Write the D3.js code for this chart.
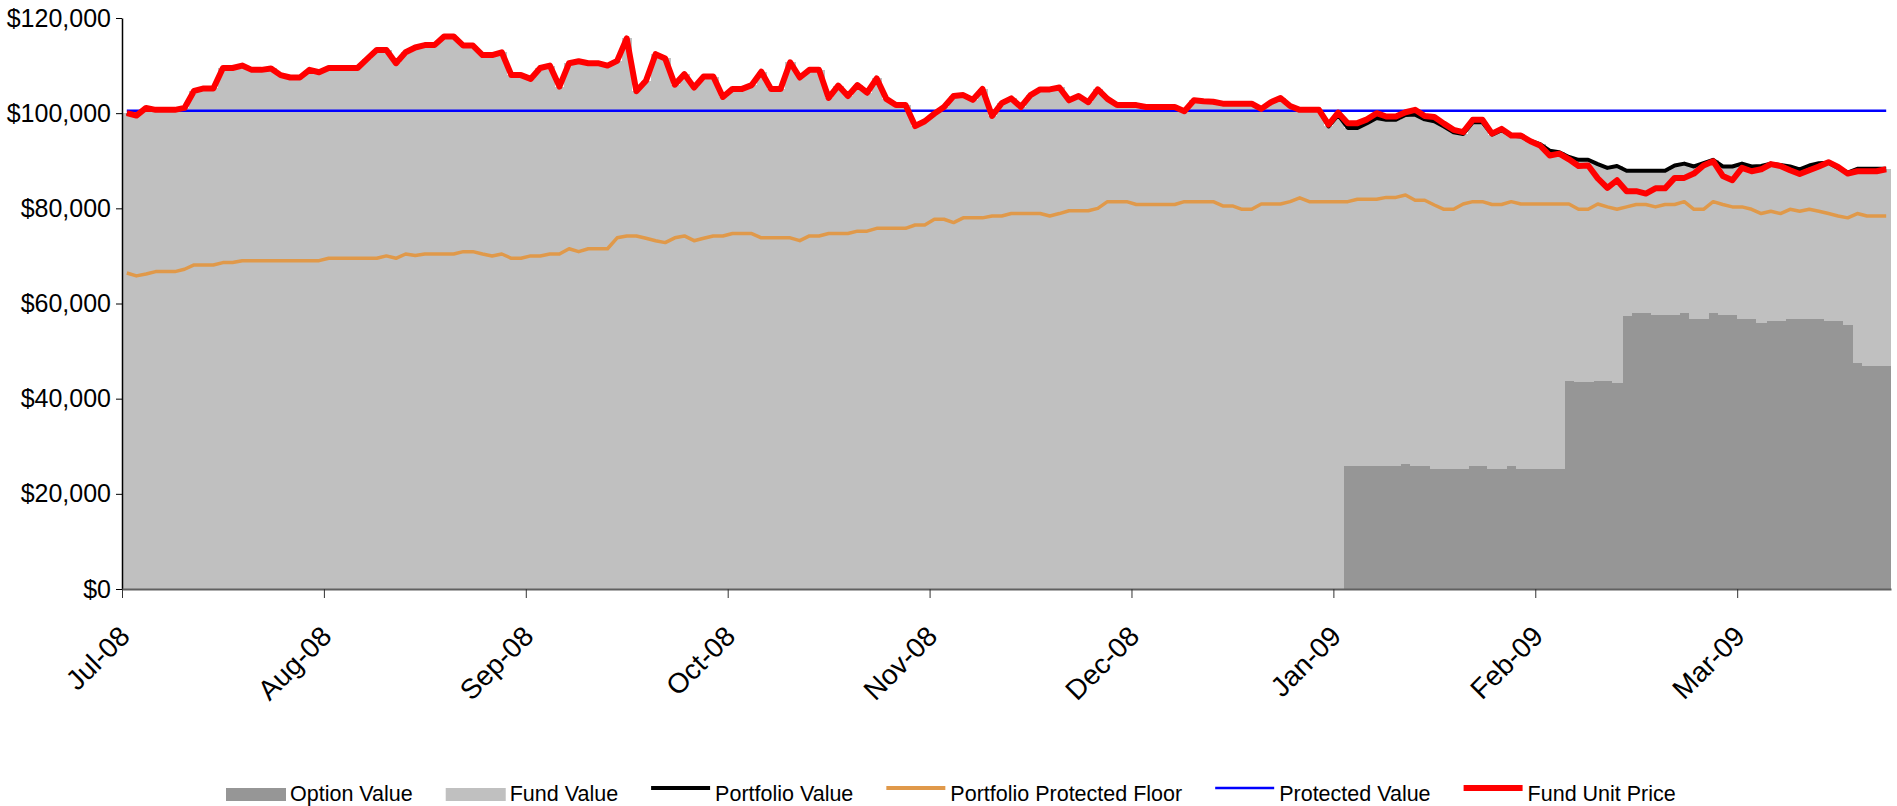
<!DOCTYPE html>
<html lang="en">
<head>
    <meta charset="UTF-8">
    <title>Fund Protection Chart</title>
    <script src="https://d3js.org/d3.v7.min.js"></script>
    <style>
        body {
            margin: 0;
            background: #ffffff;
            font-family: "Liberation Sans", Arial, sans-serif;
        }
        svg { display: block; }
        .axis text { font-family: "Liberation Sans", Arial, sans-serif; fill: #000; }
        .legend text { font-size: 21.5px; fill: #000; }
    </style>
</head>
<body>
    <div id="chart"></div>

    <script>
        // month tick labels and the trading-day index where each month starts
        const monthLabels = ["Jul-08", "Aug-08", "Sep-08", "Oct-08", "Nov-08", "Dec-08", "Jan-09", "Feb-09", "Mar-09"];
        const monthStartIndex = [0, 21, 42, 63, 84, 105, 126, 147, 168];
        const yTicks = [0, 20000, 40000, 60000, 80000, 100000, 120000];

        const protectedValue = 100500;

        // daily values, one row per month block
        const unitPrice = [
            100000, 99500, 101100, 100700, 100700, 100700, 101100, 104700, 105200, 105200, 109500, 109500, 110000, 109100, 109100, 109400, 108000, 107500, 107500, 109100, 108600,
            109500, 109500, 109500, 109500, 111400, 113300, 113300, 110500, 112800, 113800, 114300, 114300, 116100, 116100, 114200, 114200, 112200, 112200, 112800, 108000, 108000,
            107200, 109500, 110000, 105600, 110500, 110900, 110500, 110500, 110000, 111000, 115700, 104600, 106800, 112400, 111500, 106000, 108200, 105400, 107700, 107700, 103400,
            105100, 105100, 105900, 108700, 105100, 105100, 110700, 107500, 109100, 109100, 103200, 105800, 103600, 105900, 104300, 107300, 103000, 101700, 101700, 97300, 98300,
            99900, 101300, 103600, 103800, 102800, 105100, 99400, 102100, 103100, 101300, 103800, 105000, 105000, 105400, 102700, 103600, 102300, 105000, 103000, 101700, 101700,
            101700, 101300, 101300, 101300, 101300, 100400, 102700, 102500, 102400, 102000, 102000, 102000, 102000, 100900, 102300, 103200, 101500, 100700, 100700, 100700, 97600,
            100100, 97900, 97900, 98700, 100000, 99300, 99300, 100200, 100700, 99400, 99200, 97800, 96500, 96000, 98600, 98600, 95700, 96700, 95300, 95300, 94100,
            93200, 91100, 91500, 90300, 88900, 89000, 86300, 84300, 85900, 83600, 83600, 83100, 84200, 84200, 86400, 86400, 87300, 89000, 89900, 86800, 85900,
            88500, 87800, 88200, 89300, 88900, 88000, 87200, 88000, 88800, 89700, 88700, 87300, 87800, 87800, 87800, 88200
        ];

        const portfolioValue = [
            100000, 99500, 101100, 100700, 100700, 100700, 101100, 104700, 105200, 105200, 109500, 109500, 110000, 109100, 109100, 109400, 108000, 107500, 107500, 109100, 108600,
            109500, 109500, 109500, 109500, 111400, 113300, 113300, 110500, 112800, 113800, 114300, 114300, 116100, 116100, 114200, 114200, 112200, 112200, 112800, 108000, 108000,
            107200, 109500, 110000, 105600, 110500, 110900, 110500, 110500, 110000, 111000, 115700, 104600, 106800, 112400, 111500, 106000, 108200, 105400, 107700, 107700, 103400,
            105100, 105100, 105900, 108700, 105100, 105100, 110700, 107500, 109100, 109100, 103200, 105800, 103600, 105900, 104300, 107300, 103000, 101700, 101700, 97300, 98300,
            99900, 101300, 103600, 103800, 102800, 105100, 99400, 102100, 103100, 101300, 103800, 105000, 105000, 105400, 102700, 103600, 102300, 105000, 103000, 101700, 101700,
            101700, 101300, 101300, 101300, 101300, 100400, 102700, 102500, 102400, 102000, 102000, 102000, 102000, 100900, 102300, 103200, 101500, 100700, 100700, 100700, 97200,
            99600, 96900, 96900, 97900, 99000, 98600, 98600, 99600, 99700, 98700, 98300, 97200, 96000, 95600, 98100, 98100, 95500, 96400, 95300, 95100, 94200,
            93500, 92100, 91800, 90800, 90200, 90200, 89300, 88500, 88900, 87900, 87900, 87900, 87900, 87900, 89000, 89400, 88800, 89500, 90200, 88800, 88800,
            89400, 88800, 88900, 89400, 89100, 88800, 88200, 89000, 89500, 89600, 88500, 87500, 88300, 88300, 88300, 88300
        ];

        const optionValue = [
            0, 0, 0, 0, 0, 0, 0, 0, 0, 0, 0, 0, 0, 0, 0, 0, 0, 0, 0, 0, 0,
            0, 0, 0, 0, 0, 0, 0, 0, 0, 0, 0, 0, 0, 0, 0, 0, 0, 0, 0, 0, 0,
            0, 0, 0, 0, 0, 0, 0, 0, 0, 0, 0, 0, 0, 0, 0, 0, 0, 0, 0, 0, 0,
            0, 0, 0, 0, 0, 0, 0, 0, 0, 0, 0, 0, 0, 0, 0, 0, 0, 0, 0, 0, 0,
            0, 0, 0, 0, 0, 0, 0, 0, 0, 0, 0, 0, 0, 0, 0, 0, 0, 0, 0, 0, 0,
            0, 0, 0, 0, 0, 0, 0, 0, 0, 0, 0, 0, 0, 0, 0, 0, 0, 0, 0, 0, 0,
            0, 25800, 25800, 25800, 25800, 25800, 25800, 26300, 25800, 25800, 25300, 25300, 25300, 25300, 25800, 25800, 25300, 25300, 25800, 25300, 25300,
            25300, 25300, 25300, 43800, 43400, 43400, 43800, 43800, 43200, 57400, 57900, 57900, 57500, 57500, 57500, 57900, 56800, 56800, 57900, 57500, 57500,
            56800, 56800, 56000, 56400, 56400, 56800, 56800, 56800, 56800, 56400, 56400, 55500, 47400, 46900, 46900, 46900
        ];

        const fundValue = [
            100000, 99500, 101100, 100700, 100700, 100700, 101100, 104700, 105200, 105200, 109500, 109500, 110000, 109100, 109100, 109400, 108000, 107500, 107500, 109100, 108600,
            109500, 109500, 109500, 109500, 111400, 113300, 113300, 110500, 112800, 113800, 114300, 114300, 116100, 116100, 114200, 114200, 112200, 112200, 112800, 108000, 108000,
            107200, 109500, 110000, 105600, 110500, 110900, 110500, 110500, 110000, 111000, 115700, 104600, 106800, 112400, 111500, 106000, 108200, 105400, 107700, 107700, 103400,
            105100, 105100, 105900, 108700, 105100, 105100, 110700, 107500, 109100, 109100, 103200, 105800, 103600, 105900, 104300, 107300, 103000, 101700, 101700, 97300, 98300,
            99900, 101300, 103600, 103800, 102800, 105100, 99400, 102100, 103100, 101300, 103800, 105000, 105000, 105400, 102700, 103600, 102300, 105000, 103000, 101700, 101700,
            101700, 101300, 101300, 101300, 101300, 100400, 102700, 102500, 102400, 102000, 102000, 102000, 102000, 100900, 102300, 103200, 101500, 100700, 100700, 100700, 97200,
            99600, 71100, 71100, 72100, 73200, 72800, 72800, 73300, 73900, 72900, 73000, 71900, 70700, 70300, 72300, 72300, 70200, 71100, 69500, 69800, 68900,
            68200, 66800, 66500, 47000, 46800, 46800, 45500, 44700, 45700, 30500, 30000, 30000, 30400, 30400, 31500, 31500, 32000, 32700, 32300, 31300, 31300,
            32600, 32000, 32900, 33000, 32700, 32000, 31400, 32200, 32700, 33200, 32100, 32000, 40900, 41400, 41400, 41400
        ];

        const floorValue = [
            66400, 65800, 66200, 66700, 66700, 66700, 67200, 68100, 68100, 68100, 68600, 68600, 69000, 69000, 69000, 69000, 69000, 69000, 69000, 69000, 69000,
            69500, 69500, 69500, 69500, 69500, 69500, 70000, 69500, 70400, 70100, 70400, 70400, 70400, 70400, 70900, 70900, 70400, 70000, 70400, 69500, 69500,
            70000, 70000, 70400, 70400, 71500, 70900, 71500, 71500, 71500, 73800, 74200, 74200, 73700, 73200, 72800, 73800, 74200, 73200, 73700, 74200, 74200,
            74700, 74700, 74700, 73800, 73800, 73800, 73800, 73200, 74200, 74200, 74700, 74700, 74700, 75200, 75200, 75800, 75800, 75800, 75800, 76500, 76500,
            77700, 77700, 77000, 78000, 78000, 78000, 78400, 78400, 78900, 78900, 78900, 78900, 78400, 78900, 79500, 79500, 79500, 80000, 81400, 81400, 81400,
            80800, 80800, 80800, 80800, 80800, 81400, 81400, 81400, 81400, 80500, 80500, 79800, 79800, 80900, 80900, 80900, 81400, 82200, 81400, 81400, 81400,
            81400, 81400, 81900, 81900, 81900, 82300, 82300, 82800, 81700, 81700, 80700, 79800, 79800, 80900, 81400, 81400, 80800, 80800, 81400, 80900, 80900,
            80900, 80900, 80900, 80900, 79800, 79800, 80900, 80300, 79800, 80300, 80800, 80800, 80300, 80800, 80800, 81400, 79800, 79800, 81400, 80800, 80300,
            80300, 79800, 78900, 79400, 78900, 79800, 79400, 79800, 79400, 78900, 78400, 78000, 78900, 78400, 78400, 78400
        ];

        const width = 1897;
        const height = 806;
        const plot = {left: 122, right: 1891, top: 18, bottom: 589};
        const n = unitPrice.length;

        const x = d3.scaleLinear().domain([0, n]).range([plot.left, plot.right]);
        const y = d3.scaleLinear().domain([0, 120000]).range([plot.bottom, plot.top]);

        const svg = d3.select("#chart")
            .append("svg")
            .attr("width", width)
            .attr("height", height);

        // stacked columns, no gap
        const rows = unitPrice.map((_, i) => ({i: i, option: optionValue[i], fund: fundValue[i]}));
        const stacked = d3.stack().keys(["option", "fund"])(rows);
        const fills = {option: "#969696", fund: "#c0c0c0"};
        const bw = x(1) - x(0);

        svg.append("g")
            .selectAll("g")
            .data(stacked)
            .join("g")
            .attr("fill", d => fills[d.key])
            .selectAll("rect")
            .data(d => d)
            .join("rect")
            .attr("x", d => x(d.data.i))
            .attr("width", d => Math.min(bw + 0.7, plot.right - x(d.data.i)))
            .attr("y", d => y(d[1]))
            .attr("height", d => Math.max(0, y(d[0]) - y(d[1])))
            .attr("shape-rendering", "crispEdges");

        const line = d3.line()
            .x((d, i) => x(i + 0.5))
            .y(d => y(d));

        const lines = [
            {values: portfolioValue, color: "#000000", w: 4},
            {values: floorValue, color: "#e0994a", w: 3.5},
            {values: unitPrice.map(() => protectedValue), color: "#0000ff", w: 2.5},
            {values: unitPrice, color: "#ff0000", w: 6}
        ];

        svg.append("g")
            .selectAll("path")
            .data(lines)
            .join("path")
            .attr("fill", "none")
            .attr("stroke", d => d.color)
            .attr("stroke-width", d => d.w)
            .attr("stroke-linejoin", "round")
            .attr("d", d => line(d.values));

        // y axis
        const yAxis = svg.append("g")
            .attr("class", "axis")
            .attr("transform", `translate(${plot.left},0)`)
            .call(d3.axisLeft(y).tickValues(yTicks).tickFormat(d3.format("$,")).tickSize(6).tickSizeOuter(0).tickPadding(5));
        yAxis.selectAll("text").style("font-size", "25px");
        yAxis.select(".domain").attr("stroke", "#000").attr("stroke-width", 1.5);

        // x axis
        const xAxis = svg.append("g")
            .attr("class", "axis")
            .attr("transform", `translate(0,${plot.bottom})`)
            .call(d3.axisBottom(x).tickValues(monthStartIndex).tickFormat((d, i) => monthLabels[i]).tickSize(9).tickSizeOuter(0));
        xAxis.select(".domain").attr("stroke", "#606060").attr("stroke-width", 2);
        xAxis.selectAll(".tick line").attr("stroke", "#333");
        xAxis.selectAll("text")
            .attr("x", 0)
            .attr("y", 0)
            .attr("dy", "0.35em")
            .attr("text-anchor", "end")
            .attr("transform", "translate(2,42) rotate(-45)")
            .style("font-size", "28px");

        // legend
        const legendItems = [
            {name: "Option Value", type: "box", color: "#969696"},
            {name: "Fund Value", type: "box", color: "#c0c0c0"},
            {name: "Portfolio Value", type: "line", color: "#000000", w: 4},
            {name: "Portfolio Protected Floor", type: "line", color: "#e0994a", w: 4},
            {name: "Protected Value", type: "line", color: "#0000ff", w: 2.5},
            {name: "Fund Unit Price", type: "line", color: "#ff0000", w: 6}
        ];

        const legend = svg.append("g").attr("class", "legend");
        let lx = 226;
        legendItems.forEach(item => {
            const g = legend.append("g").attr("transform", `translate(${lx},0)`);
            if (item.type === "box") {
                g.append("rect")
                    .attr("x", 0).attr("y", 788)
                    .attr("width", 60).attr("height", 13)
                    .attr("fill", item.color);
            } else {
                g.append("line")
                    .attr("x1", 0).attr("x2", 59)
                    .attr("y1", 788).attr("y2", 788)
                    .attr("stroke", item.color)
                    .attr("stroke-width", item.w);
            }
            const t = g.append("text")
                .attr("x", 64)
                .attr("y", 801)
                .text(item.name);
            lx += 64 + t.node().getComputedTextLength() + 33;
        });
    </script>
</body>
</html>
